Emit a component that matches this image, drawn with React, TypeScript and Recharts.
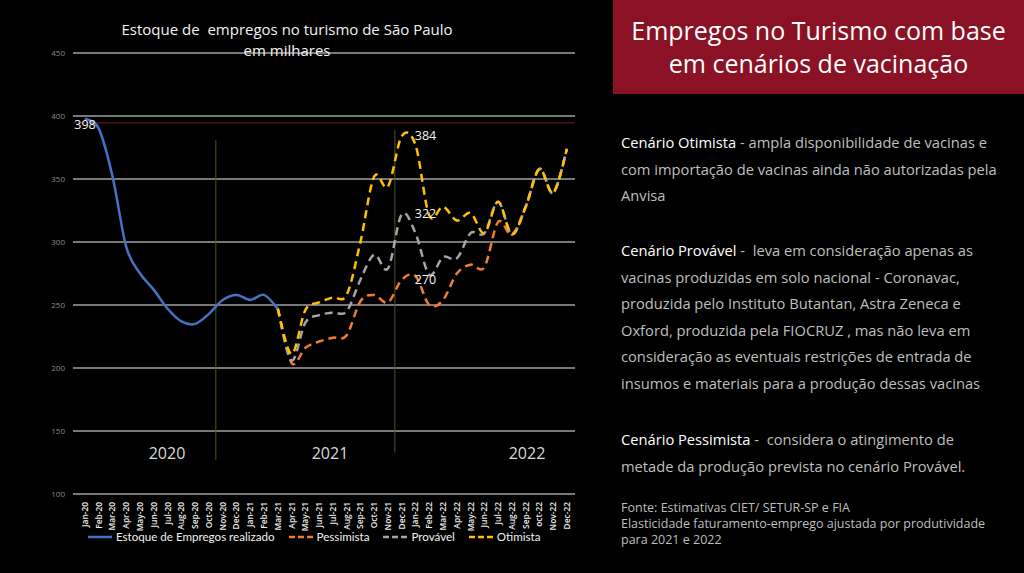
import { CartesianGrid, Line, LineChart, ReferenceLine, XAxis, YAxis } from "recharts";

const months = [
  "Jan-20", "Feb-20", "Mar-20", "Apr-20", "May-20", "Jun-20", "Jul-20", "Aug-20", "Sep-20", "Oct-20", "Nov-20", "Dec-20",
  "Jan-21", "Feb-21", "Mar-21", "Apr-21", "May-21", "Jun-21", "Jul-21", "Aug-21", "Sep-21", "Oct-21", "Nov-21", "Dec-21",
  "Jan-22", "Feb-22", "Mar-22", "Apr-22", "May-22", "Jun-22", "Jul-22", "Aug-22", "Sep-22", "oct-22", "Nov-22", "Dec-22",
];

// estoque realizado (Jan-20 .. Mar-21)
const realizado = [398, 390, 352, 296, 275, 262, 247, 237, 235, 243, 254, 258, 254, 258, 247];
// cenários (Mar-21 .. Dec-22)
const pessimista = [247, 204, 216, 221, 224, 226, 253, 258, 252, 270, 273, 250, 254, 275, 282, 280, 316, 306, 328, 358, 339, 374];
const provavel = [247, 206, 236, 242, 244, 245, 270, 290, 279, 322, 307, 274, 288, 287, 307, 307, 332, 306, 328, 358, 339, 374];
const otimista = [247, 211, 246, 252, 256, 258, 300, 352, 344, 384, 377, 321, 328, 317, 323, 307, 332, 306, 328, 358, 339, 374];
const scenarioStart = 14;

const yTicks = [100, 150, 200, 250, 300, 350, 400, 450];
const years = [
  { label: "2020", left: 167 },
  { label: "2021", left: 330 },
  { label: "2022", left: 527 },
];

const data = months.map((m, i) => ({
  m,
  realizado: i < realizado.length ? realizado[i] : null,
  pessimista: i >= scenarioStart ? pessimista[i - scenarioStart] : null,
  provavel: i >= scenarioStart ? provavel[i - scenarioStart] : null,
  otimista: i >= scenarioStart ? otimista[i - scenarioStart] : null,
}));

// smoothing close to excel's "smoothed line"
function excelSmooth(context: any) {
  let pts: number[][] = [];
  return {
    areaStart() {},
    areaEnd() {},
    lineStart() {
      pts = [];
    },
    point(x: number, y: number) {
      pts.push([+x, +y]);
    },
    lineEnd() {
      if (!pts.length) return;
      context.moveTo(pts[0][0], pts[0][1]);
      for (let i = 0; i < pts.length - 1; i++) {
        const p0 = pts[Math.max(i - 1, 0)];
        const p1 = pts[i];
        const p2 = pts[i + 1];
        const p3 = pts[Math.min(i + 2, pts.length - 1)];
        context.bezierCurveTo(
          p1[0] + (p2[0] - p0[0]) / 6,
          p1[1] + (p2[1] - p0[1]) / 6,
          p2[0] - (p3[0] - p1[0]) / 6,
          p2[1] - (p3[1] - p1[1]) / 6,
          p2[0],
          p2[1]
        );
      }
    },
  };
}

const FONT = "'Open Sans', sans-serif";

const MonthTick = (props: any) => {
  const { x, y, payload } = props;
  return (
    <text transform={`translate(${x},${y}) rotate(-90)`} x={0} dy="0.35em" textAnchor="end" fontSize={8.4} fontWeight={600} fill="#ededed" fontFamily={FONT}>
      {payload.value}
    </text>
  );
};

const labelAt = (idx: number, below?: boolean) => (props: any) => {
  const { x, y, index, value } = props;
  if (index !== idx || value == null) return null;
  if (below)
    return (
      <text x={x} y={y + 10} textAnchor="middle" fontSize={12.5} fill="#f2f2f2" fontFamily={FONT}>
        {value}
      </text>
    );
  return (
    <text x={x + 13} y={y + 4} textAnchor="start" fontSize={12.5} fill="#f2f2f2" fontFamily={FONT}>
      {value}
    </text>
  );
};

const legendItems = [
  { name: "Estoque de Empregos realizado", color: "#4472C4", dash: undefined },
  { name: "Pessimista", color: "#ED7D31", dash: "6 3" },
  { name: "Provável", color: "#A5A5A5", dash: "6 3" },
  { name: "Otimista", color: "#FFC000", dash: "6 3" },
];

const lineStyle: any = { position: "absolute", left: 621, color: "#bfbfbf", fontSize: 14.7, fontFamily: FONT, whiteSpace: "pre", lineHeight: "20px" };
const bodyLines = [
  { y: 132, head: "Cenário Otimista", text: " - ampla disponibilidade de vacinas e" },
  { y: 158.5, text: "com importação de vacinas ainda não autorizadas pela" },
  { y: 185, text: "Anvisa" },
  { y: 240, head: "Cenário Provável", text: " -  leva em consideração apenas as" },
  { y: 266.5, text: "vacinas produzidas em solo nacional - Coronavac," },
  { y: 293, text: "produzida pelo Instituto Butantan, Astra Zeneca e" },
  { y: 319.5, text: "Oxford, produzida pela FIOCRUZ , mas não leva em" },
  { y: 346, text: "consideração as eventuais restrições de entrada de" },
  { y: 372.5, text: "insumos e materiais para a produção dessas vacinas" },
  { y: 429, head: "Cenário Pessimista", text: " -  considera o atingimento de" },
  { y: 455.5, text: "metade da produção prevista no cenário Provável." },
];
const fonteLines = [
  "Fonte: Estimativas CIET/ SETUR-SP e FIA",
  "Elasticidade faturamento-emprego ajustada por produtividade",
  "para 2021 e 2022",
];

export default function App() {
  return (
    <div style={{ position: "fixed", left: 0, top: 0, width: 1024, height: 573, background: "#000", overflow: "hidden", fontFamily: FONT }}>
      <div style={{ position: "absolute", left: 0, top: 0 }}>
        <LineChart width={600} height={573} data={data} margin={{ top: 53, right: 25, left: 13, bottom: 39 }}>
          <CartesianGrid vertical={false} stroke="#f0f0f0" strokeWidth={1} />
          <XAxis dataKey="m" interval={0} tick={<MonthTick />} tickLine={false} axisLine={false} height={40} padding={{ left: 12, right: 8 }} />
          <XAxis xAxisId="num" type="number" domain={[0, months.length - 1]} hide padding={{ left: 12, right: 8 }} />
          <YAxis domain={[100, 450]} ticks={yTicks} tickLine={false} axisLine={false} width={60} tick={{ fontSize: 8, fill: "#8c8c8c", fontFamily: FONT }} />
          <ReferenceLine y={394.5} stroke="#6e1c1c" strokeWidth={1} />
          <ReferenceLine xAxisId="num" segment={[{ x: 9.5, y: 381 }, { x: 9.5, y: 127 }]} stroke="#4b5a26" strokeWidth={1} />
          <ReferenceLine xAxisId="num" segment={[{ x: 22.5, y: 389 }, { x: 22.5, y: 133 }]} stroke="#4b5a26" strokeWidth={1} />
          <Line dataKey="realizado" type={excelSmooth as any} stroke="#4472C4" strokeWidth={2.5} dot={false} isAnimationActive={false} label={labelAt(0, true)} />
          <Line dataKey="pessimista" type={excelSmooth as any} stroke="#ED7D31" strokeWidth={2.5} strokeDasharray="8 5" dot={false} isAnimationActive={false} label={labelAt(23)} />
          <Line dataKey="provavel" type={excelSmooth as any} stroke="#A5A5A5" strokeWidth={2.5} strokeDasharray="8 5" dot={false} isAnimationActive={false} label={labelAt(23)} />
          <Line dataKey="otimista" type={excelSmooth as any} stroke="#FFC000" strokeWidth={2.5} strokeDasharray="8 5" dot={false} isAnimationActive={false} label={labelAt(23)} />
        </LineChart>
      </div>

      <div style={{ position: "absolute", left: 0, width: 574, top: 19, textAlign: "center", color: "#f2f2f2", fontSize: 15, lineHeight: "21px", whiteSpace: "pre" }}>
        {"Estoque de  empregos no turismo de São Paulo\nem milhares"}
      </div>

      {years.map((yr) => (
        <div key={yr.label} style={{ position: "absolute", left: yr.left - 40, width: 80, top: 442, textAlign: "center", color: "#d9d9d9", fontSize: 16 }}>
          {yr.label}
        </div>
      ))}

      <div style={{ position: "absolute", left: 88, top: 530, display: "flex", alignItems: "center", fontSize: 11.6, fontFamily: "Lato, sans-serif", color: "#f2f2f2" }}>
        {legendItems.map((it) => (
          <div key={it.name} style={{ display: "flex", alignItems: "center", marginRight: 14 }}>
            <svg width={24} height={6} style={{ marginRight: 4 }}>
              <line x1={0} y1={3} x2={24} y2={3} stroke={it.color} strokeWidth={2.5} strokeDasharray={it.dash} />
            </svg>
            <span>{it.name}</span>
          </div>
        ))}
      </div>

      <div style={{ position: "absolute", left: 613, top: 0, width: 411, height: 94, background: "#8a1224", color: "#fff", fontSize: 25, lineHeight: "33px", textAlign: "center", paddingTop: 14, boxSizing: "border-box" }}>
        Empregos no Turismo com base
        <br />
        em cenários de vacinação
      </div>

      {bodyLines.map((l, i) => (
        <div key={i} style={{ ...lineStyle, top: l.y }}>
          {l.head && <span style={{ color: "#ffffff" }}>{l.head}</span>}
          {l.text}
        </div>
      ))}

      <div style={{ position: "absolute", left: 621, top: 500, color: "#bfbfbf", fontSize: 12.5, lineHeight: "16px", whiteSpace: "pre" }}>
        {fonteLines.join("\n")}
      </div>
    </div>
  );
}
